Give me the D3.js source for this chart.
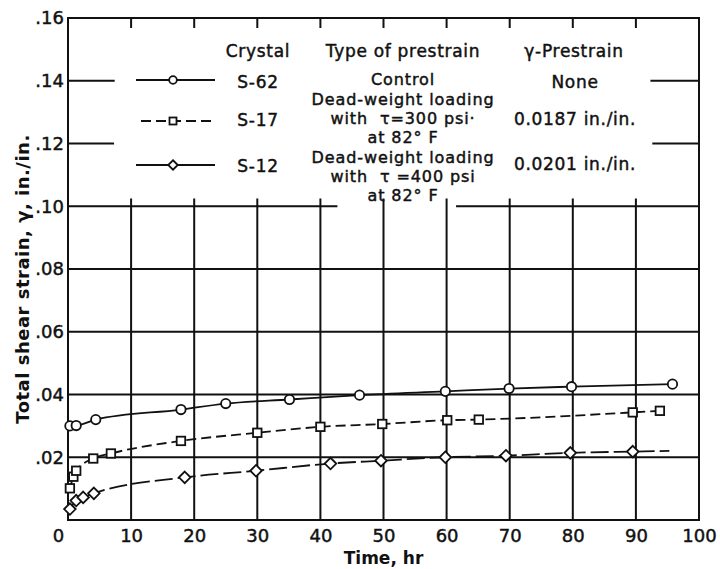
<!DOCTYPE html>
<html>
<head>
<meta charset="utf-8">
<script src="https://cdn.jsdelivr.net/npm/d3@7"></script>
<style>
  body { margin: 0; background: #fff; }
  svg text { font-family: "DejaVu Sans", sans-serif; fill: #111; }
  svg text.ink { stroke: #111; stroke-width: 0.45px; }
</style>
</head>
<body>
<div id="chart"></div>
<script>
// Data: [time (hr), total shear strain (in./in.)]
const s62 = [[0.3, 0.0300], [1.3, 0.0301], [4.4, 0.0320], [17.9, 0.0352], [25, 0.0371],
  [35.1, 0.0384], [46.2, 0.0398], [59.8, 0.0410], [69.9, 0.0419], [79.8, 0.0425], [95.8, 0.0433]];
const s17 = [[0.3, 0.0101], [0.85, 0.0138], [1.3, 0.0157], [4.0, 0.0196], [6.8, 0.0212],
  [17.9, 0.0252], [30.0, 0.0278], [40.0, 0.0297], [49.8, 0.0306], [60.1, 0.0318],
  [65.1, 0.0320], [89.5, 0.0343], [93.8, 0.0348]];
const s12 = [[0.3, 0.0035], [1.3, 0.0062], [2.4, 0.0072], [4.1, 0.0085], [18.5, 0.0136],
  [29.8, 0.0157], [41.6, 0.0180], [49.6, 0.0189], [59.8, 0.0200], [69.4, 0.0205],
  [79.6, 0.0214], [89.5, 0.0218]];
const s12Tail = [95.3, 0.0220]; // curve carries on past the last diamond

const xTicks = [0, 10, 20, 30, 40, 50, 60, 70, 80, 90, 100];
const yTicks = [0.02, 0.04, 0.06, 0.08, 0.10, 0.12, 0.14, 0.16];
const yTickLabels = [".02", ".04", ".06", ".08", ".10", ".12", ".14", ".16"];

const legendHead = ["Crystal", "Type of prestrain", "γ-Prestrain"];
const legendRows = [
  { name: "S-62", type: ["Control"], pre: "None" },
  { name: "S-17", type: ["Dead-weight loading", "with  τ=300 psi·", "at 82° F"], pre: "0.0187 in./in." },
  { name: "S-12", type: ["Dead-weight loading", "with  τ =400 psi", "at 82° F"], pre: "0.0201 in./in." }
];

const width = 720, height = 569;
const x = d3.scaleLinear().domain([0, 100]).range([68, 699]);
const y = d3.scaleLinear().domain([0, 0.16]).range([520, 18]);

const svg = d3.select("#chart").append("svg")
  .attr("width", width).attr("height", height);

const ink = "#111";

// grid - the legend sits over the upper part, so the lines there are cut
const grid = svg.append("g").attr("stroke", ink).attr("stroke-width", 2);
[0.02, 0.04, 0.06, 0.08].forEach(v => {
  grid.append("line").attr("x1", x(0)).attr("x2", x(100)).attr("y1", y(v)).attr("y2", y(v));
});
// partial lines where the legend is
[[0.10, 0, 42.7], [0.10, 61.5, 100], [0.12, 0, 7.3], [0.12, 92.6, 100], [0.14, 0, 7.4], [0.14, 92.3, 100]]
  .forEach(([v, a, b]) => {
    grid.append("line").attr("x1", x(a)).attr("x2", x(b)).attr("y1", y(v)).attr("y2", y(v));
  });
xTicks.slice(1, -1).forEach(t => {
  grid.append("line").attr("x1", x(t)).attr("x2", x(t)).attr("y1", y(0)).attr("y2", y(0.1025));
  grid.append("line").attr("x1", x(t)).attr("x2", x(t)).attr("y1", y(0.16)).attr("y2", y(0.16) + 10);
});

// frame
svg.append("rect")
  .attr("x", x(0)).attr("y", y(0.16))
  .attr("width", x(100) - x(0)).attr("height", y(0) - y(0.16))
  .attr("fill", "none").attr("stroke", ink).attr("stroke-width", 2);

// axes (labels only)
const xAxis = svg.append("g")
  .attr("transform", `translate(0,${y(0)})`)
  .call(d3.axisBottom(x).tickValues(xTicks).tickSize(0).tickPadding(9).tickFormat(d3.format("d")));
xAxis.select(".domain").remove();
xAxis.selectAll("text").attr("class", "ink").attr("font-size", 18)
  .style("font-family", "DejaVu Sans").attr("fill", ink)
  .attr("dx", d => d === 0 ? -10 : 0);

const yAxis = svg.append("g")
  .attr("transform", `translate(${x(0)},0)`)
  .call(d3.axisLeft(y).tickValues(yTicks).tickSize(0).tickPadding(4)
    .tickFormat((d, i) => yTickLabels[i]));
yAxis.select(".domain").remove();
yAxis.selectAll("text").attr("class", "ink").attr("font-size", 18)
  .style("font-family", "DejaVu Sans").attr("fill", ink);

svg.append("text")
  .attr("x", x(50)).attr("y", 564)
  .attr("text-anchor", "middle")
  .attr("font-size", 17).attr("font-weight", "bold")
  .text("Time, hr");

svg.append("text")
  .attr("transform", "translate(29,279) rotate(-90)")
  .attr("text-anchor", "middle")
  .attr("font-size", 18).attr("font-weight", "bold")
  .attr("letter-spacing", 0.5)
  .text("Total shear strain, γ, in./in.");

// curves
const line = d3.line().x(d => x(d[0])).y(d => y(d[1])).curve(d3.curveMonotoneX);

const series = [
  { data: s62, line: s62, dash: null, legDash: null, mark: "circle" },
  { data: s17, line: s17, dash: "10,5", legDash: "10,5", mark: "square" },
  { data: s12, line: s12.concat([s12Tail]), dash: "18,5", legDash: null, mark: "diamond" }
];

function marker(g, kind, cx, cy, s) {
  if (kind === "circle") {
    g.append("circle").attr("cx", cx).attr("cy", cy).attr("r", s * 0.55);
  } else if (kind === "square") {
    g.append("rect").attr("x", cx - s / 2).attr("y", cy - s / 2).attr("width", s).attr("height", s);
  } else {
    const r = s * 0.68;
    g.append("path").attr("d", `M${cx},${cy - r}L${cx + r},${cy}L${cx},${cy + r}L${cx - r},${cy}Z`);
  }
}

series.forEach(s => {
  svg.append("path")
    .attr("d", line(s.line))
    .attr("fill", "none").attr("stroke", ink).attr("stroke-width", 1.8)
    .attr("stroke-dasharray", s.dash);
  const g = svg.append("g").attr("fill", "#fff").attr("stroke", ink).attr("stroke-width", 1.8);
  s.data.forEach(d => marker(g, s.mark, x(d[0]), y(d[1]), 8.5));
});

// legend
const leg = svg.append("g").attr("font-size", 17).attr("letter-spacing", 0.7);
const headX = [258, 403, 574];
legendHead.forEach((t, i) => {
  leg.append("text").attr("class", "ink").attr("x", headX[i]).attr("y", 57)
    .attr("text-anchor", "middle").text(t);
});

const rowY = [80, 121, 165];          // sample line height
const nameBase = [88, 126, 172];
const typeBase = [[85], [104.5, 123.5, 142.5], [162.5, 181.5, 200.5]];
const preBase = [88, 125, 170];
legendRows.forEach((r, i) => {
  const ly = rowY[i];
  leg.append("line")
    .attr("x1", i === 1 ? 141 : 136).attr("x2", 215).attr("y1", ly).attr("y2", ly)
    .attr("stroke", ink).attr("stroke-width", 1.8)
    .attr("stroke-dasharray", series[i].legDash);
  const mg = leg.append("g").attr("fill", "#fff").attr("stroke", ink).attr("stroke-width", 1.8);
  marker(mg, series[i].mark, 173, ly, 7);
  leg.append("text").attr("class", "ink").attr("x", 258).attr("y", nameBase[i])
    .attr("text-anchor", "middle").text(r.name);
  r.type.forEach((t, j) => {
    leg.append("text").attr("class", "ink").attr("x", 403).attr("y", typeBase[i][j])
      .attr("font-size", 16).attr("letter-spacing", 0.9)
      .attr("text-anchor", "middle").style("white-space", "pre").text(t);
  });
  leg.append("text").attr("class", "ink").attr("x", 575).attr("y", preBase[i])
    .attr("text-anchor", "middle").text(r.pre);
});
</script>
</body>
</html>
